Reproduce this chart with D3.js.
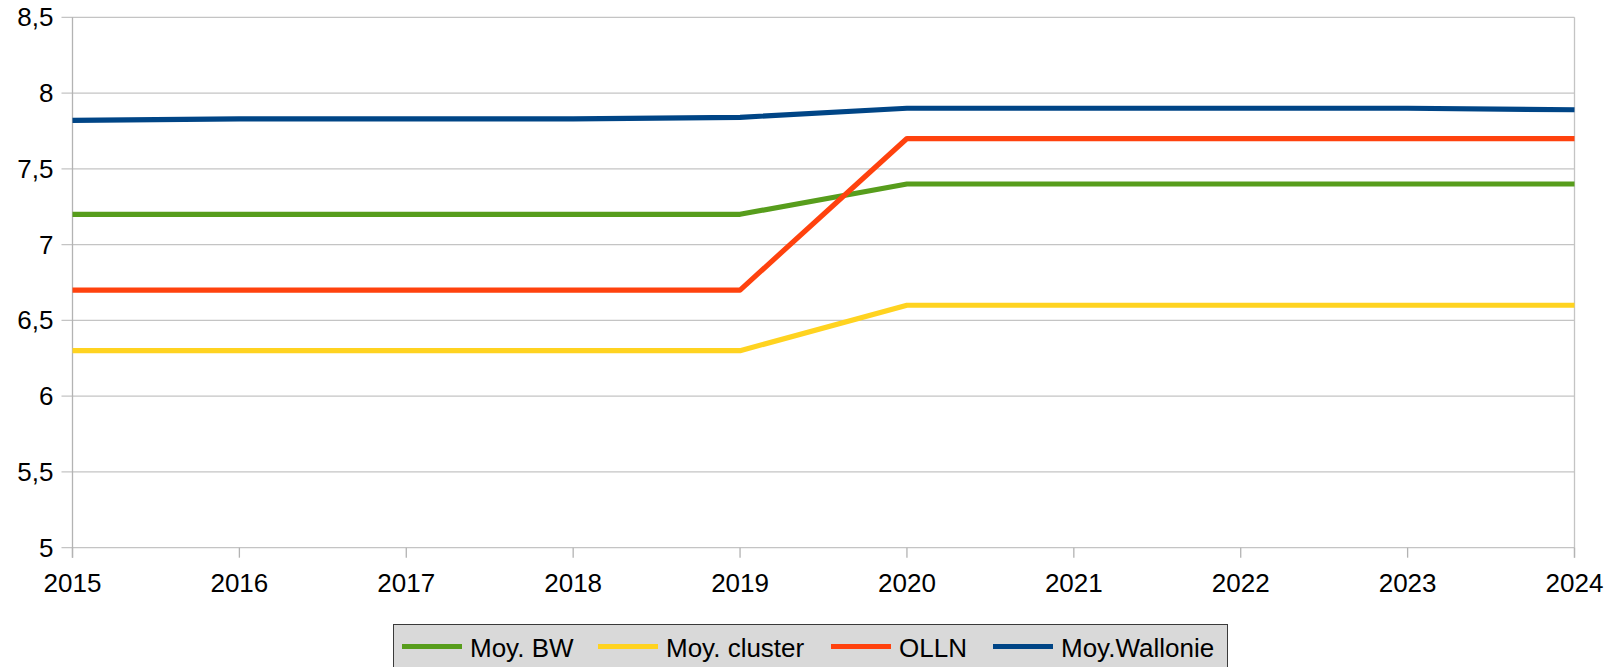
<!DOCTYPE html>
<html><head><meta charset="utf-8">
<script src="https://cdn.jsdelivr.net/npm/d3@7"></script>
<style>body{margin:0;background:#fff}svg{display:block}text{font-family:"Liberation Sans",Arial,sans-serif;fill:#000}</style>
</head><body><svg id="c" width="1622" height="667"></svg>
<script>
const years = [2015,2016,2017,2018,2019,2020,2021,2022,2023,2024];
const moyBW = [7.2,7.2,7.2,7.2,7.2,7.4,7.4,7.4,7.4,7.4];
const moyCluster = [6.3,6.3,6.3,6.3,6.3,6.6,6.6,6.6,6.6,6.6];
const olln = [6.7,6.7,6.7,6.7,6.7,7.7,7.7,7.7,7.7,7.7];
const moyWallonie = [7.82,7.83,7.83,7.83,7.84,7.9,7.9,7.9,7.9,7.89];
const yTicks = [5,5.5,6,6.5,7,7.5,8,8.5];
const seriesNames = ["Moy. BW","Moy. cluster","OLLN","Moy.Wallonie"];
const seriesColors = ["#579d1c","#ffd320","#ff420e","#004586"];
const seriesData = [moyBW, moyCluster, olln, moyWallonie];

const svg = d3.select("#c");
const L=72.5, R=1574.5, T=17.3, B=547.7;
const x = d3.scaleLinear().domain([2015,2024]).range([L,R]);
const y = d3.scaleLinear().domain([5,8.5]).range([B,T]);
const fmt = d => String(d).replace(".", ",");

// grid
svg.append("g").selectAll("line").data(yTicks).join("line")
  .attr("x1",L-11).attr("x2",R).attr("y1",d=>y(d)).attr("y2",d=>y(d))
  .attr("stroke","#c4c4c4").attr("stroke-width",1.3);
// y axis line
svg.append("line").attr("x1",L).attr("x2",L).attr("y1",T).attr("y2",B+10).attr("stroke","#b3b3b3").attr("stroke-width",1.3);
svg.append("line").attr("x1",R).attr("x2",R).attr("y1",T).attr("y2",B+10).attr("stroke","#c4c4c4").attr("stroke-width",1.3);
// x ticks
svg.append("g").selectAll("line").data(years).join("line")
  .attr("x1",d=>x(d)).attr("x2",d=>x(d)).attr("y1",B).attr("y2",B+10)
  .attr("stroke","#b3b3b3").attr("stroke-width",1.3);
// y labels
svg.append("g").selectAll("text").data(yTicks).join("text")
  .attr("x",53.5).attr("y",d=>y(d)).attr("dy","0.35em").attr("text-anchor","end")
  .attr("font-size",26).text(fmt);
// x labels
svg.append("g").selectAll("text").data(years).join("text")
  .attr("x",d=>x(d)).attr("y",592.3).attr("text-anchor","middle")
  .attr("font-size",26).text(d=>d);

// lines
const line = d3.line().x((d,i)=>x(years[i])).y(d=>y(d));
seriesData.forEach((s,k)=>{
  svg.append("path").datum(s).attr("d",line).attr("fill","none")
    .attr("stroke",seriesColors[k]).attr("stroke-width",5.2).attr("stroke-linejoin","round");
});

// legend
const lg = svg.append("g");
lg.append("rect").attr("x",393.5).attr("y",624.5).attr("width",834).attr("height",60)
  .attr("fill","#d9d9d9").attr("stroke","#3a3a3a").attr("stroke-width",1);
const lx = [402,598,831,993];
seriesNames.forEach((n,k)=>{
  lg.append("line").attr("x1",lx[k]).attr("x2",lx[k]+60).attr("y1",646.5).attr("y2",646.5)
    .attr("stroke",seriesColors[k]).attr("stroke-width",5.2);
  lg.append("text").attr("x",lx[k]+68).attr("y",657.3).attr("font-size",26).text(n);
});
</script></body></html>
